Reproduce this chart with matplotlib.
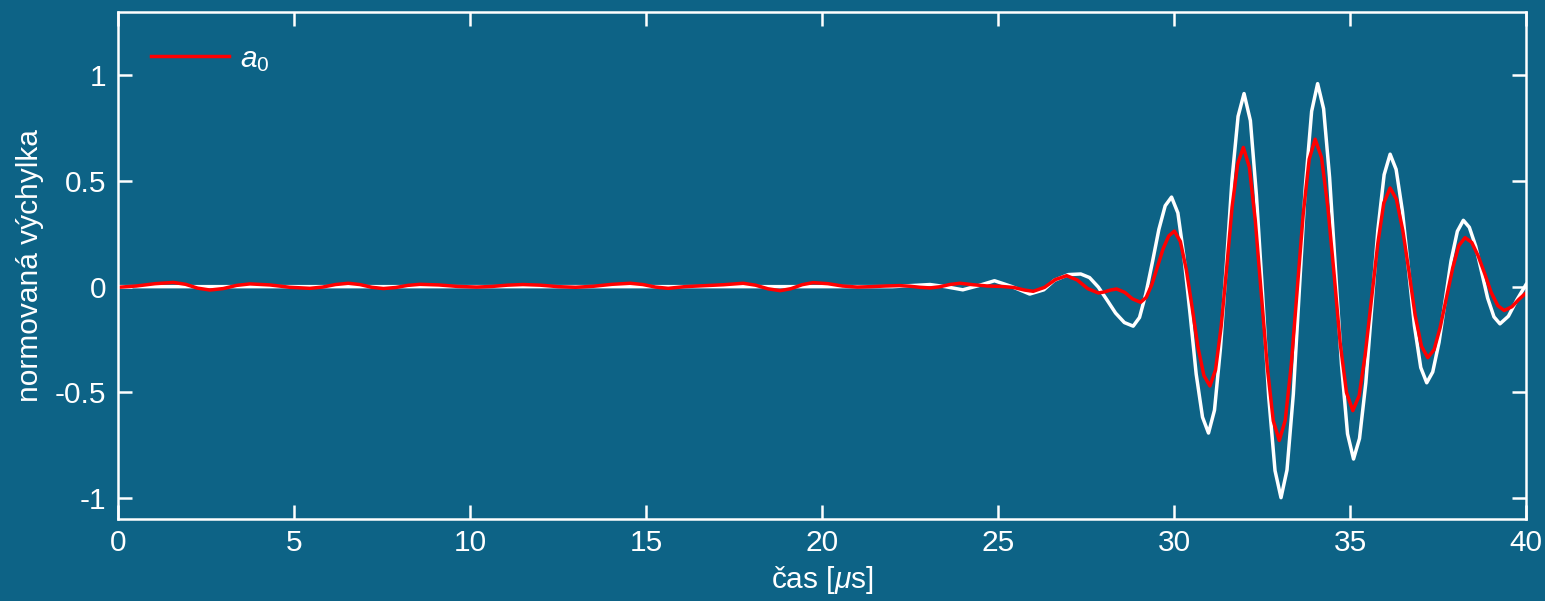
from __future__ import annotations

import matplotlib

matplotlib.use("Agg")
import matplotlib.pyplot as plt  # noqa: E402

BG = "#0d6386"

# white trace (measured signal)
white_t = [
    0.0, 5.0, 10.0, 15.0, 20.0, 22.0, 23.07, 23.5, 24.0, 24.45, 24.9, 25.4, 25.9,
    26.3, 26.6, 27.0, 27.35, 27.60, 27.85, 28.10, 28.34, 28.59,
    28.84, 29.02, 29.20, 29.39, 29.57, 29.75,
    29.93, 30.11, 30.28, 30.46, 30.63, 30.81,
    30.98, 31.15, 31.32, 31.49, 31.65, 31.82,
    31.99, 32.17, 32.34, 32.52, 32.69, 32.87,
    33.04, 33.21, 33.39, 33.56, 33.73, 33.91,
    34.08, 34.25, 34.42, 34.59, 34.76, 34.93,
    35.10, 35.27, 35.45, 35.62, 35.79, 35.97,
    36.14, 36.31, 36.49, 36.66, 36.83, 37.01,
    37.18, 37.35, 37.53, 37.70, 37.87, 38.05,
    38.22, 38.39, 38.57, 38.74, 38.91, 39.09,
    39.26, 39.50, 39.75, 40.0,
]
white_v = [
    0.0, 0.0, 0.0, 0.0, 0.0, 0.0, 0.01, 0.0, -0.015, 0.005, 0.028, 0.0, -0.035,
    -0.015, 0.03, 0.057, 0.06, 0.043, -0.002, -0.064, -0.125, -0.170,
    -0.187, -0.146, -0.034, 0.119, 0.271, 0.383,
    0.424, 0.349, 0.145, -0.135, -0.414, -0.618,
    -0.693, -0.585, -0.291, 0.111, 0.512, 0.806,
    0.914, 0.786, 0.436, -0.043, -0.521, -0.871,
    -0.999, -0.868, -0.509, -0.019, 0.471, 0.830,
    0.961, 0.842, 0.517, 0.073, -0.372, -0.697,
    -0.816, -0.719, -0.455, -0.095, 0.266, 0.530,
    0.627, 0.555, 0.357, 0.086, -0.185, -0.383,
    -0.455, -0.404, -0.263, -0.071, 0.122, 0.262,
    0.314, 0.281, 0.192, 0.069, -0.054, -0.143,
    -0.176, -0.140, -0.060, 0.010,
]

# red trace (a0 mode)
red_t = [
    0.0, 0.52, 1.05, 1.57, 1.92, 2.26, 2.61, 2.99, 3.37, 3.75, 4.32, 4.88,
    5.45, 5.81, 6.18, 6.54, 6.87, 7.21, 7.54, 7.89, 8.23, 8.58, 9.12, 9.65,
    10.19, 10.63, 11.06, 11.5, 12.0, 12.5, 13.0, 13.52, 14.03, 14.55, 14.91, 15.27,
    15.63, 16.1, 16.7, 17.2, 17.76, 18.11, 18.46, 18.81, 19.12, 19.44,
    19.75, 20.17, 20.58, 21.0, 21.4, 21.8, 22.2, 22.49, 22.78, 23.07, 23.35, 23.64,
    23.92, 24.3, 24.7, 25.1, 25.45, 25.75, 26.0, 26.32, 26.63,
    26.95, 27.25, 27.55, 27.85, 28.02, 28.2, 28.37, 28.6, 28.82,
    29.05, 29.21, 29.37, 29.53, 29.69, 29.85,
    30.01, 30.18, 30.35, 30.52, 30.68, 30.85,
    31.02, 31.18, 31.34, 31.50, 31.65, 31.81,
    31.97, 32.14, 32.31, 32.48, 32.65, 32.82,
    32.99, 33.16, 33.33, 33.50, 33.67, 33.84,
    34.01, 34.19, 34.37, 34.55, 34.72, 34.90,
    35.08, 35.26, 35.43, 35.61, 35.79, 35.96,
    36.14, 36.32, 36.50, 36.68, 36.85, 37.03,
    37.21, 37.39, 37.56, 37.74, 37.92, 38.09,
    38.27, 38.46, 38.64, 38.83, 39.01, 39.20,
    39.38, 39.6, 39.8, 40.0,
]
red_v = [
    -0.003, 0.003, 0.014, 0.02, 0.011, -0.007, -0.016, -0.009, 0.006, 0.013, 0.008, -0.003,
    -0.008, -0.002, 0.010, 0.016, 0.010, -0.003, -0.009, -0.004, 0.006, 0.011, 0.008, 0.001,
    -0.002, 0.001, 0.007, 0.01, 0.007, 0.0, -0.003, 0.002, 0.011, 0.016, 0.010, -0.002,
    -0.008, 0.0, 0.005, 0.009, 0.016, 0.007, -0.010, -0.019, -0.0095, 0.0095,
    0.019, 0.014, 0.003, -0.002, 0.0, 0.003, 0.005, 0.002, -0.003, -0.006, -0.0005, 0.0105,
    0.016, 0.009, 0.003, 0.001, -0.004, -0.016, -0.022, -0.0035, 0.0335,
    0.052, 0.0315, -0.0095, -0.03, -0.025, -0.016, -0.011, -0.027, -0.058,
    -0.074, -0.051, 0.010, 0.095, 0.179, 0.240,
    0.263, 0.214, 0.080, -0.104, -0.287, -0.421,
    -0.47, -0.394, -0.188, 0.095, 0.377, 0.583,
    0.659, 0.566, 0.312, -0.035, -0.381, -0.635,
    -0.728, -0.633, -0.372, -0.015, 0.342, 0.603,
    0.698, 0.612, 0.377, 0.056, -0.266, -0.501,
    -0.587, -0.516, -0.324, -0.06, 0.204, 0.396,
    0.467, 0.413, 0.266, 0.066, -0.135, -0.282,
    -0.336, -0.298, -0.194, -0.052, 0.090, 0.194,
    0.232, 0.209, 0.146, 0.060, -0.027, -0.090,
    -0.113, -0.095, -0.06, -0.03,
]

x_ticks = [0, 5, 10, 15, 20, 25, 30, 35, 40]
y_ticks = [-1, -0.5, 0, 0.5, 1]
y_tick_labels = ["-1", "-0.5", "0", "0.5", "1"]

FS = 21.5


def main() -> None:
    plt.rcParams["font.family"] = ["Liberation Sans", "DejaVu Sans"]
    plt.rcParams["mathtext.fontset"] = "custom"
    plt.rcParams["mathtext.rm"] = "Liberation Sans"
    plt.rcParams["mathtext.it"] = "Liberation Sans:italic"

    fig = plt.figure(figsize=(15.45, 6.01), dpi=100, facecolor=BG)
    ax = fig.add_axes([0.0764, 0.1364, 0.9113, 0.8436], facecolor=BG)

    ax.plot(white_t, white_v, color="white", lw=2.5)
    ax.plot(red_t, red_v, color="#ff0000", lw=2.5, label="$a_0$")

    ax.set_xlim(0, 40)
    ax.set_ylim(-1.1, 1.3)
    ax.set_xticks(x_ticks)
    ax.set_yticks(y_ticks)
    ax.set_yticklabels(y_tick_labels)

    for spine in ax.spines.values():
        spine.set_color("white")
        spine.set_linewidth(1.8)
    ax.tick_params(
        direction="in", length=10, width=1.8, colors="white", labelsize=FS,
        top=True, right=True,
    )
    ax.tick_params(axis="x", pad=7)
    ax.tick_params(axis="y", pad=8.5)
    ax.set_xlabel("čas [$\\mu$s]", color="white", fontsize=FS, labelpad=5)
    ax.set_ylabel("normovaná výchylka", color="white", fontsize=FS, labelpad=8)

    leg = ax.legend(
        loc="upper left", frameon=False, fontsize=FS, handlelength=2.6,
        borderaxespad=0.7, handletextpad=0.4,
    )
    for text in leg.get_texts():
        text.set_color("white")

    fig.savefig("out.png", dpi=100, facecolor=BG)
    plt.close(fig)


if __name__ == "__main__":
    main()
